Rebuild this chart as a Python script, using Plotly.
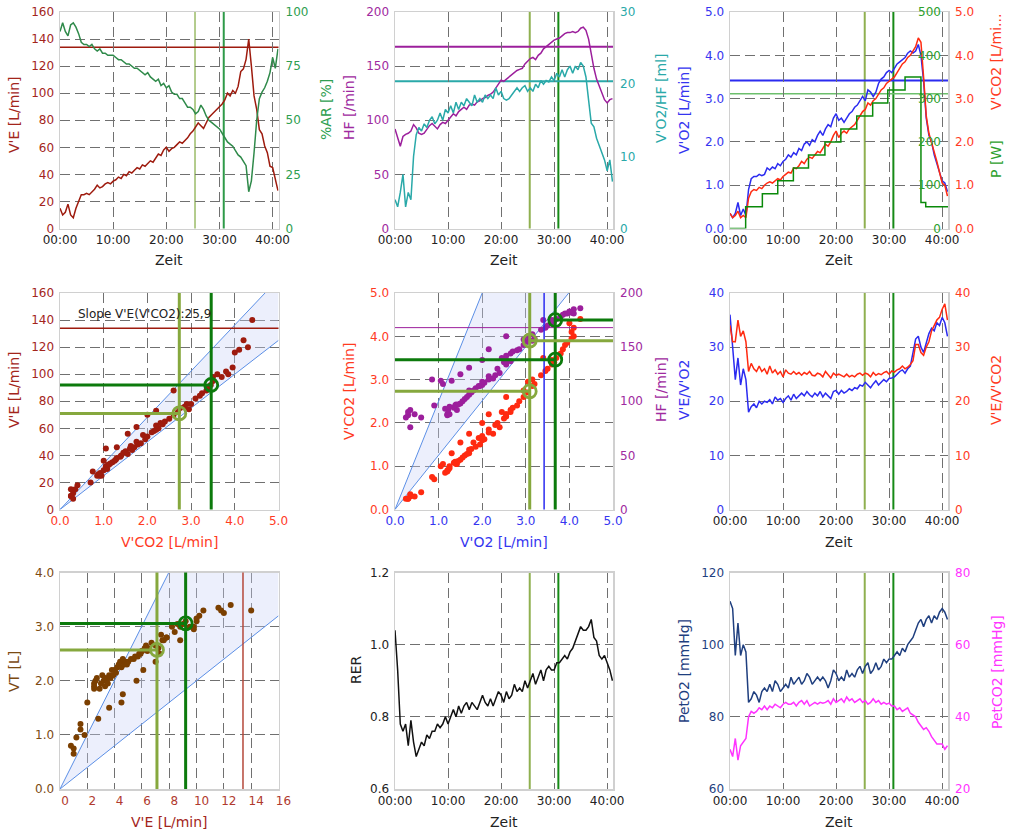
import plotly.graph_objects as go

# ------------------------------------------------------------------ data
time_min = [
    0, 0.5, 1, 1.5, 2, 2.5, 3, 3.5, 4, 4.5,
    5, 5.5, 6, 6.5, 7, 7.5, 8, 8.5, 9, 9.5,
    10, 10.5, 11, 11.5, 12, 12.5, 13, 13.5, 14, 14.5,
    15, 15.5, 16, 16.5, 17, 17.5, 18, 18.5, 19, 19.5,
    20, 20.5, 21, 21.5, 22, 22.5, 23, 23.5, 24, 24.5,
    25, 25.5, 26, 26.5, 27, 27.5, 28, 28.5, 29, 29.5,
    30, 30.5, 31, 31.5, 32, 32.5, 33, 33.5, 34, 34.5,
    35, 35.5, 36, 36.5, 37, 37.5, 38, 38.5, 39, 39.5,
    40, 40.5, 41]

ve = [
    15, 10, 12, 18, 10, 8, 15, 20, 25, 25,
    26, 25, 27, 29, 32, 30, 31, 33, 34, 33,
    35, 36, 38, 37, 40, 39, 42, 41, 43, 45,
    44, 47, 46, 48, 50, 49, 52, 55, 54, 58,
    60, 57, 59, 60, 62, 64, 63, 65, 67, 70,
    72, 75, 78, 76, 74, 78, 82, 84, 86, 88,
    90, 92, 95, 100, 98, 102, 100, 105, 116, 118,
    125, 140, 120, 98, 88, 73, 70, 61, 56, 46,
    45, 36, 28]

ar_pct = [
    91, 95, 91, 89, 94, 95, 93, 90, 86, 85,
    85, 84, 85, 83, 82, 83, 81, 81, 80, 80,
    80, 79, 78, 78, 77, 76, 76, 75, 74, 74,
    73, 72, 71, 72, 70, 69, 68, 69, 66, 67,
    65, 66, 63, 62, 62, 60, 60, 58, 56, 56,
    55, 53, 54, 57, 55, 52, 50, 49, 48, 47,
    46, 44, 42, 40, 39, 38, 36, 34, 33, 31,
    29, 17, 22, 35, 50, 60, 63, 65, 68, 72,
    79, 74, 83]

hf = [
    92, 85, 76, 85, 87, 88, 90, 96, 93, 88,
    87, 88, 92, 95, 97, 94, 92, 96, 98, 97,
    100, 102, 106, 104, 108, 110, 112, 110, 114, 115,
    114, 117, 118, 120, 121, 123, 124, 126, 130, 134,
    137, 136, 138, 140, 142, 144, 146, 147, 148, 152,
    155, 157, 158, 156, 160, 162, 166, 168, 170, 172,
    174, 175, 176, 178, 180, 181, 181, 182, 181, 182,
    185, 186, 183, 175, 160, 148, 138, 131, 125, 119,
    116, 119, 120]

vo2_hf = [
    4, 3, 5, 7.5, 3, 5, 4, 10, 13, 14,
    13.5, 14.5, 14, 15, 15.5, 14.5, 15, 16, 15, 16.5,
    16, 17, 16, 17.5, 16.5, 17.5, 17, 18, 17.5, 17,
    18.5, 17.5, 18, 17.5, 18.5, 18, 18.5, 18, 19.5, 18.5,
    19, 18, 17.8, 18, 18.5, 19, 19.5, 19, 19.5, 19.8,
    19, 19.5, 19, 20, 19.5, 20.5, 20, 20.5, 20.3, 21,
    20.5, 21.5, 21, 22, 21, 22, 22.5, 21.5, 22.5, 22,
    23, 22.5, 21, 17.8, 14.6, 14.1, 12.5, 11.5, 10.4, 9.5,
    8, 9.5, 6.5]

vo2 = [
    0.35, 0.25, 0.35, 0.6, 0.3, 0.45, 0.3, 0.9, 1.15, 1.2,
    1.2, 1.25, 1.22, 1.25, 1.4, 1.35, 1.42, 1.38, 1.5, 1.45,
    1.55, 1.6, 1.7, 1.65, 1.75, 1.7, 1.85, 1.8, 1.95, 2.0,
    1.92, 2.05, 2.0, 2.15, 2.25, 2.15, 2.3, 2.4, 2.35, 2.55,
    2.65, 2.5, 2.55, 2.45, 2.55, 2.65, 2.7, 2.8, 2.85, 2.95,
    3.05, 2.95, 3.2, 3.15, 3.05, 3.15, 3.35, 3.45, 3.5, 3.6,
    3.65, 3.6, 3.7, 3.8, 3.85, 3.9, 3.95, 4.05, 4.1, 4.05,
    4.1, 4.25, 4.0, 3.4, 2.55, 2.15, 2.0, 1.7, 1.5, 1.3,
    1.1, 1.05, 0.85]

vco2 = [
    0.35, 0.25, 0.3, 0.4, 0.25, 0.3, 0.25, 0.7, 0.85, 0.9,
    0.88, 0.95, 0.92, 1.0, 1.05, 1.08, 1.05, 1.1, 1.15, 1.12,
    1.2, 1.25, 1.3, 1.28, 1.4, 1.38, 1.45, 1.55, 1.5, 1.6,
    1.65, 1.62, 1.7, 1.78, 1.75, 1.85, 1.95, 1.9, 2.0, 2.15,
    2.25, 2.1, 2.2, 2.25, 2.2, 2.3, 2.35, 2.4, 2.5, 2.6,
    2.7, 2.75, 2.9, 2.85, 2.95, 3.0, 3.1, 3.2, 3.25, 3.35,
    3.4, 3.45, 3.5, 3.6, 3.7, 3.8, 3.85, 3.95, 4.0, 4.1,
    4.2, 4.4, 4.3, 3.5, 2.6, 2.2, 2.0, 1.75, 1.55, 1.3,
    1.05, 1.0, 0.75]

ve_vo2 = [
    36, 30, 24, 28, 23, 26, 24, 18, 19, 19.5,
    18.8, 20, 19.5, 20, 19.8, 20.3, 19.5, 20.8, 20.2, 20.5,
    19.8, 20.5, 21, 20.2, 21.3, 20.5, 21, 21.5, 21, 21.8,
    21.2, 20.8, 21.5, 21, 21.8, 20.8, 21.5, 21, 20.5, 21.8,
    22, 21.3, 22, 21.5, 21.8, 22.3, 22, 22.5, 22.3, 23,
    22.8, 23.5, 23, 22.5, 23.2, 23.8, 23, 23.5, 24, 23.6,
    24.2, 24.3, 24.5, 25, 25.5, 25.8, 25.2, 26, 26.5, 29,
    31.5, 32, 30, 29, 31, 32.5, 33.5, 33, 34.5, 34,
    35.5, 34.5, 32]

ve_vco2 = [
    34, 31, 31, 35, 32, 33, 31, 25.5, 27, 26,
    25.5, 26.5, 25.5, 26, 25, 26.5, 25.2, 25.8, 25, 25.5,
    24.5, 25.8, 25.2, 25, 25.5, 25, 25.3, 24.8, 25.3, 25,
    25.5, 24.8, 24.7, 25.2, 25, 24.5, 25.5, 24.8, 24.3, 25.2,
    24.8, 25, 24.7, 24.5, 25, 24.5, 24.8, 24.5, 25, 25.2,
    24.8, 25.2, 25, 24.5, 25.3, 24.8, 25.1, 24.9, 25.3, 25.5,
    25, 25.6, 25.4, 25.8, 26, 26.5, 26, 26.3, 26.8, 27.5,
    30.5, 30.5, 29, 28.5, 30, 31, 33, 34, 35, 35.5,
    37, 38, 35]

rer = [
    1.04, 0.93, 0.78, 0.76, 0.78, 0.72, 0.79, 0.73, 0.69, 0.71,
    0.73, 0.72, 0.75, 0.74, 0.76, 0.76, 0.78, 0.77, 0.78, 0.80,
    0.78, 0.80, 0.82, 0.80, 0.83, 0.81, 0.83, 0.84, 0.82, 0.84,
    0.83, 0.82, 0.84, 0.86, 0.84, 0.83, 0.85, 0.83, 0.85, 0.87,
    0.86, 0.84, 0.87, 0.85, 0.86, 0.89, 0.87, 0.88, 0.87, 0.90,
    0.88, 0.90, 0.92, 0.89, 0.91, 0.93, 0.90, 0.93, 0.94, 0.93,
    0.93, 0.95, 0.95, 0.96, 0.97, 0.96, 0.98, 0.99, 1.01, 1.03,
    1.05, 1.04, 1.04, 1.05, 1.07, 1.02, 1.01, 0.97, 0.96, 0.97,
    0.95, 0.93, 0.90]

peto2 = [
    112, 110, 97, 106, 97, 100, 98, 84, 85, 87,
    86, 84, 87, 88, 87, 89, 87, 90, 89, 87,
    88, 89, 88, 91, 89, 90, 91, 89, 90, 92,
    91, 89, 90, 91, 90, 91, 90, 88, 90, 93,
    92, 90, 91, 90, 93, 91, 92, 91, 93, 94,
    92, 94, 95, 92, 93, 95, 93, 94, 96, 95,
    96, 96, 97, 98, 97, 99, 98, 100, 101, 102,
    104, 106, 107, 105, 107, 108, 106, 108, 107, 109,
    110, 109, 107]

petco2 = [
    31, 29, 34, 28, 32, 33, 34, 40, 41.5, 41,
    41.5, 42.5, 42, 43, 42, 43, 42.5, 43.5, 43, 42.5,
    43.5, 44, 43.5, 43.5, 44, 43, 44, 44.5, 43.5, 44.5,
    43, 43.5, 44, 43.5, 44, 43.8, 44, 44.5, 43.5, 45,
    44, 44.5, 45, 44, 45.5, 44.5, 45, 44, 44.5, 45,
    44, 44.5, 43.5, 44, 45, 44, 44.5, 43.5, 44, 43.5,
    43.8, 43, 43, 42, 42.5, 41.5, 42, 42.5, 41, 40.5,
    40, 38.5, 37.5, 36.5, 37, 36, 34.5, 33.5, 32.5, 32.5,
    32.5, 31, 32]

vt = [
    1.2, 0.75, 0.95, 1.0, 0.65, 0.8, 1.1, 1.6, 1.95, 1.85,
    2.0, 1.9, 2.05, 1.85, 2.0, 1.95, 2.1, 1.9, 2.0, 2.05,
    1.95, 2.1, 2.2, 2.05, 2.2, 2.1, 2.25, 2.15, 2.3, 2.25,
    2.35, 2.3, 2.4, 2.35, 2.35, 2.3, 2.4, 2.45, 2.4, 2.5,
    2.55, 2.45, 2.5, 2.55, 2.6, 2.55, 2.65, 2.6, 2.7, 2.65,
    2.6, 2.75, 2.8, 2.75, 2.85, 2.8, 3.0, 2.9, 3.05, 3.0,
    3.05, 3.1, 3.0, 3.1, 3.0, 3.2, 3.15, 3.3, 3.35, 3.3,
    3.4, 3.3, 3.25, 2.95, 2.75, 2.5, 2.35, 2.2, 2.0, 1.75,
    1.6, 1.5, 1.3]

power_t = [0, 2.95, 6.1, 9.0, 11.95, 14.8, 17.9, 20.9, 23.9, 26.9, 29.75, 33.0, 36.0, 36.9, 41.1]
power_w = [0, 50, 80, 110, 140, 170, 200, 230, 260, 290, 320, 350, 60, 50, 50]

time_tickvals = [0, 10, 20, 30, 40]
time_ticktext = ["00:00", "10:00", "20:00", "30:00", "40:00"]
ve_tickvals = [0, 20, 40, 60, 80, 100, 120, 140, 160]
ve_ticktext = ["0", "2", "4", "6", "8", "10", "12", "14", "16"]

thr_t = [25.4, 30.8]
thr_ve = [71, 92]
thr_vco2 = [2.73, 3.46]
thr_vo2 = [3.09, 3.675]
thr_hf = [156, 175]
thr_vt = [2.57, 3.06]

ref_ve_max = 134
ref_hf = 168
ref_vo2_hf = 20.4
ref_vo2 = 3.42
ref_power = 311

slope_ve_vco2 = [25.0, 34.1]
slope_vco2_vo2 = [1.255, 2.5]
slope_vt_ve = [0.02, 0.0502]

for s in (ve, ar_pct, hf, vo2_hf, vo2, vco2, ve_vo2, ve_vco2, rer, peto2, petco2, vt):
    assert len(s) == len(time_min), len(s)

# ------------------------------------------------------------------ style
W, H = 1015, 830
FONT = "DejaVu Sans"
C_VE = "#9e1b0e"
C_VE_T = "#a3251b"
C_AR = "#2f8a4a"
C_AR_T = "#2e9e50"
C_HF = "#9c1f9c"
C_HF_T = "#a02aa0"
C_O2HF = "#2aa9a9"
C_VO2 = "#2b2bf0"
C_VO2_T = "#3535f0"
C_VCO2 = "#ff2a10"
C_VCO2_T = "#ff3b1f"
C_P = "#0a8a0a"
C_P_T = "#2ca02c"
C_VT = "#7b3f00"
C_VT_T = "#7b4a12"
C_PETO2 = "#1f3f7f"
C_PETCO2 = "#ff33ff"
C_VT1 = "#8fb050"
C_VT2 = "#168a16"
C_VT1S = "#86a83e"
C_VT2S = "#0c7a0c"
C_WEDGE = "#5b8fe6"
GRID = "#707070"
BORDER = "#d0d0d0"

COLS = [(60, 278.5), (395, 613), (730, 948)]
ROWS = [(12, 228.5), (293, 509.5), (572.5, 789)]


def sfx(k):
    return "" if k == 1 else str(k)


fig = go.Figure()
layout = dict(
    width=W, height=H, autosize=False,
    margin=dict(l=0, r=0, t=0, b=0, pad=0, autoexpand=False),
    paper_bgcolor="white", plot_bgcolor="white",
    showlegend=False,
    font=dict(family=FONT, size=12, color="#222"),
)
shapes = []
annotations = []

common = dict(showgrid=True, gridcolor=GRID, griddash="10px,5px", gridwidth=1,
              zeroline=False, showline=True, linecolor=BORDER, linewidth=1.5,
              mirror=True, ticks="", fixedrange=True, automargin=False)


def make_x(k, rng, color="#222", **kw):
    c = (k - 1) % 3
    d = dict(domain=[COLS[c][0] / W, COLS[c][1] / W], anchor="y" + sfx(k), range=rng,
             tickfont=dict(family=FONT, size=12, color=color))
    d.update(common)
    d.update(kw)
    layout["xaxis" + sfx(k)] = d


def make_y(k, rng, color="#222", **kw):
    r = (k - 1) // 3
    d = dict(domain=[1 - ROWS[r][1] / H, 1 - ROWS[r][0] / H], anchor="x" + sfx(k), range=rng,
             tickfont=dict(family=FONT, size=12, color=color), ticklabelstandoff=2)
    d.update(common)
    d.update(kw)
    layout["yaxis" + sfx(k)] = d


def make_yr(n, k, rng, color, **kw):
    d = dict(overlaying="y" + sfx(k), anchor="x" + sfx(k), side="right", range=rng,
             showgrid=False, zeroline=False, showline=False, ticks="", fixedrange=True,
             automargin=False,
             tickfont=dict(family=FONT, size=12, color=color), ticklabelstandoff=6)
    d.update(kw)
    layout["yaxis" + str(n)] = d


def time_x(k):
    make_x(k, [0, 41.1], tickvals=time_tickvals, ticktext=time_ticktext)


def line(x, y, xa, ya, color, width=1.5, shape="linear"):
    fig.add_trace(go.Scatter(x=x, y=y, xaxis=xa, yaxis=ya, mode="lines",
                             line=dict(color=color, width=width, shape=shape),
                             hoverinfo="skip", showlegend=False))


def dots(x, y, xa, ya, color, size=6):
    fig.add_trace(go.Scatter(x=x, y=y, xaxis=xa, yaxis=ya, mode="markers",
                             marker=dict(color=color, size=size, line=dict(width=0)),
                             hoverinfo="skip", showlegend=False))


def ring(x, y, xa, ya, color):
    fig.add_trace(go.Scatter(x=[x], y=[y], xaxis=xa, yaxis=ya, mode="markers",
                             marker=dict(symbol="circle-open", size=13, color=color,
                                         line=dict(width=2.8, color=color)),
                             hoverinfo="skip", showlegend=False))


def vline(xa, ya, x, color, width, layer="below"):
    shapes.append(dict(type="line", xref=xa, yref=ya + " domain", x0=x, x1=x, y0=0, y1=1,
                       line=dict(color=color, width=width), layer=layer))


def hline(xa, ya, y, color, width, x0=None, x1=None, layer="below"):
    if x0 is None:
        shapes.append(dict(type="line", xref=xa + " domain", yref=ya, x0=0, x1=1, y0=y, y1=y,
                           line=dict(color=color, width=width), layer=layer))
    else:
        shapes.append(dict(type="line", xref=xa, yref=ya, x0=x0, x1=x1, y0=y, y1=y,
                           line=dict(color=color, width=width), layer=layer))


def wedge(xa, ya, slopes, xmax, ymax):
    lo, hi = slopes

    def end(s):
        return (xmax, s * xmax) if s * xmax <= ymax else (ymax / s, ymax)

    eh, el = end(hi), end(lo)
    pts = [(0, 0), eh]
    if eh[1] >= ymax and el[0] >= xmax and el[1] < ymax:
        pts.append((xmax, ymax))
    pts += [el, (0, 0)]
    fig.add_trace(go.Scatter(x=[p[0] for p in pts], y=[p[1] for p in pts], xaxis=xa, yaxis=ya,
                             mode="lines", fill="toself", fillcolor="rgba(200,210,245,0.35)",
                             line=dict(width=0), hoverinfo="skip", showlegend=False))
    for e in (eh, el):
        line([0, e[0]], [0, e[1]], xa, ya, C_WEDGE, 1)


def title(text, cx, cy, color, rot=False, size=14):
    annotations.append(dict(text=text, xref="paper", yref="paper", x=cx / W, y=1 - cy / H,
                            xanchor="center", yanchor="middle", showarrow=False,
                            textangle=-90 if rot else 0,
                            font=dict(family=FONT, size=size, color=color)))


# ------------------------------------------------------------------ panel 1: V'E / %AR
time_x(1)
make_y(1, [0, 160], C_VE_T, dtick=20)
make_yr(10, 1, [0, 100], C_AR_T, dtick=25)
vline("x", "y", thr_t[0], "#b3cc8c", 2)
vline("x", "y", thr_t[1], "#2e9a48", 2)
hline("x", "y", ref_ve_max, C_VE, 1.5)
line(time_min, ar_pct, "x", "y10", C_AR)
line(time_min, ve, "x", "y", C_VE)
title("V'E [L/min]", 14, 115, C_VE_T, True)
title("%AR [%]", 326, 110, C_AR_T, True)
title("Zeit", 169, 260, "#222")

# ------------------------------------------------------------------ panel 2: HF / VO2/HF
time_x(2)
make_y(2, [0, 200], C_HF_T, dtick=50)
make_yr(11, 2, [0, 30], C_O2HF, dtick=10)
vline("x2", "y2", thr_t[0], C_VT1, 2)
vline("x2", "y2", thr_t[1], C_VT2, 2)
hline("x2", "y2", ref_hf, C_HF, 2)
hline("x2", "y11", ref_vo2_hf, C_O2HF, 2)
line(time_min, vo2_hf, "x2", "y11", C_O2HF)
line(time_min, hf, "x2", "y2", C_HF)
title("HF [/min]", 349, 108, C_HF_T, True)
title("V'O2/HF [ml]", 661, 98, C_O2HF, True)
title("Zeit", 504, 260, "#222")

# ------------------------------------------------------------------ panel 3: VO2 / VCO2 / P
time_x(3)
make_y(3, [0, 5], C_VO2_T, dtick=1, tickformat=".1f")
make_yr(12, 3, [0, 5], C_VCO2_T, dtick=1, tickformat=".1f")
make_yr(13, 3, [0, 500], C_P_T, dtick=100, ticklabelposition="inside", ticklabelstandoff=4,
        ticklabeloverflow="allow")
vline("x3", "y3", thr_t[0], C_VT1, 2)
vline("x3", "y3", thr_t[1], C_VT2, 2)
hline("x3", "y3", ref_vo2, C_VO2, 2)
hline("x3", "y13", ref_power, "#6cbf6c", 1.5)
line(power_t, power_w, "x3", "y13", C_P, 1.5, "hv")
line(time_min, vo2, "x3", "y3", C_VO2)
line(time_min, vco2, "x3", "y12", C_VCO2)
title("V'O2 [L/min]", 684, 110, C_VO2_T, True)
title("V'CO2 [L/mi...", 996, 62, C_VCO2_T, True)
title("P [W]", 996, 159, C_P_T, True)
title("Zeit", 839, 260, "#222")

# ------------------------------------------------------------------ panel 4: VE vs VCO2
make_x(4, [0, 5], C_VCO2_T, dtick=1, tickformat=".1f")
make_y(4, [0, 160], C_VE_T, dtick=20)
wedge("x4", "y4", slope_ve_vco2, 5, 160)
dots(vco2, ve, "x4", "y4", C_VE)
hline("x4", "y4", ref_ve_max, C_VE, 1.5, layer="above")
vline("x4", "y4", thr_vco2[0], C_VT1S, 3, layer="above")
vline("x4", "y4", thr_vco2[1], C_VT2S, 3, layer="above")
hline("x4", "y4", thr_ve[0], C_VT1S, 3, 0, thr_vco2[0], layer="above")
hline("x4", "y4", thr_ve[1], C_VT2S, 3, 0, thr_vco2[1], layer="above")
ring(thr_vco2[0], thr_ve[0], "x4", "y4", C_VT1S)
ring(thr_vco2[1], thr_ve[1], "x4", "y4", C_VT2S)
annotations.append(dict(text="Slope V'E(V'CO2):25,9", xref="paper", yref="paper",
                        x=76 / W, y=1 - 314 / H, xanchor="left", yanchor="middle",
                        showarrow=False, font=dict(family=FONT, size=12, color="#222")))
title("V'E [L/min]", 14, 390, C_VE_T, True)
title("V'CO2 [L/min]", 169, 542, C_VCO2_T)

# ------------------------------------------------------------------ panel 5: VCO2 / HF vs VO2
make_x(5, [0, 5], C_VO2_T, dtick=1, tickformat=".1f")
make_y(5, [0, 5], C_VCO2_T, dtick=1, tickformat=".1f")
make_yr(14, 5, [0, 200], C_HF_T, dtick=50)
wedge("x5", "y5", slope_vco2_vo2, 5, 5)
dots(vo2, vco2, "x5", "y5", C_VCO2)
dots(vo2, hf, "x5", "y14", C_HF)
hline("x5", "y14", ref_hf, C_HF, 1, layer="above")
vline("x5", "y5", ref_vo2, C_VO2, 1.5, layer="above")
vline("x5", "y5", thr_vo2[0], C_VT1S, 3, layer="above")
vline("x5", "y5", thr_vo2[1], C_VT2S, 3, layer="above")
hline("x5", "y5", thr_vco2[0], C_VT1S, 3, 0, thr_vo2[0], layer="above")
hline("x5", "y5", thr_vco2[1], C_VT2S, 3, 0, thr_vo2[1], layer="above")
hline("x5", "y14", thr_hf[0], C_VT1S, 3, thr_vo2[0], 5, layer="above")
hline("x5", "y14", thr_hf[1], C_VT2S, 3, thr_vo2[1], 5, layer="above")
ring(thr_vo2[0], thr_vco2[0], "x5", "y5", C_VT1S)
ring(thr_vo2[1], thr_vco2[1], "x5", "y5", C_VT2S)
ring(thr_vo2[0], thr_hf[0], "x5", "y14", C_VT1S)
ring(thr_vo2[1], thr_hf[1], "x5", "y14", C_VT2S)
title("V'CO2 [L/min]", 349, 392, C_VCO2_T, True)
title("HF [/min]", 661, 390, C_HF_T, True)
title("V'O2 [L/min]", 504, 542, C_VO2_T)

# ------------------------------------------------------------------ panel 6: VE/VO2, VE/VCO2
time_x(6)
make_y(6, [0, 40], C_VO2_T, dtick=10)
make_yr(15, 6, [0, 40], C_VCO2_T, dtick=10)
vline("x6", "y6", thr_t[0], C_VT1, 2)
vline("x6", "y6", thr_t[1], C_VT2, 2)
line(time_min, ve_vco2, "x6", "y15", C_VCO2)
line(time_min, ve_vo2, "x6", "y6", C_VO2)
title("V'E/V'O2", 684, 390, C_VO2_T, True)
title("V'E/V'CO2", 996, 390, C_VCO2_T, True)
title("Zeit", 839, 542, "#222")

# ------------------------------------------------------------------ panel 7: VT vs VE
make_x(7, [0, 160], "#b03a2e", tickvals=ve_tickvals, ticktext=ve_ticktext, ticklabelshift=5)
make_y(7, [0, 4], C_VT_T, dtick=1, tickformat=".1f")
wedge("x7", "y7", slope_vt_ve, 160, 4)
dots(ve, vt, "x7", "y7", C_VT)
vline("x7", "y7", ref_ve_max, "#b5483a", 1.5, layer="above")
vline("x7", "y7", thr_ve[0], C_VT1S, 3, layer="above")
vline("x7", "y7", thr_ve[1], C_VT2S, 3, layer="above")
hline("x7", "y7", thr_vt[0], C_VT1S, 3, 0, thr_ve[0], layer="above")
hline("x7", "y7", thr_vt[1], C_VT2S, 3, 0, thr_ve[1], layer="above")
ring(thr_ve[0], thr_vt[0], "x7", "y7", C_VT1S)
ring(thr_ve[1], thr_vt[1], "x7", "y7", C_VT2S)
title("VT [L]", 14, 672, C_VT_T, True)
title("V'E [L/min]", 169, 822, "#a3251b")

# ------------------------------------------------------------------ panel 8: RER
time_x(8)
make_y(8, [0.6, 1.2], "#222", dtick=0.2, tickformat=".1f")
vline("x8", "y8", thr_t[0], C_VT1, 2)
vline("x8", "y8", thr_t[1], C_VT2, 2)
line(time_min, rer, "x8", "y8", "#111111")
title("RER", 356, 670, "#222", True)
title("Zeit", 504, 822, "#222")

# ------------------------------------------------------------------ panel 9: PetO2 / PetCO2
time_x(9)
make_y(9, [60, 120], C_PETO2, dtick=20)
make_yr(16, 9, [20, 80], C_PETCO2, dtick=20)
vline("x9", "y9", thr_t[0], C_VT1, 2)
vline("x9", "y9", thr_t[1], C_VT2, 2)
line(time_min, petco2, "x9", "y16", C_PETCO2)
line(time_min, peto2, "x9", "y9", C_PETO2)
title("PetO2 [mmHg]", 684, 671, C_PETO2, True)
title("PetCO2 [mmHg]", 997, 672, C_PETCO2, True)
title("Zeit", 839, 822, "#222")

layout["shapes"] = shapes
layout["annotations"] = annotations
fig.update_layout(**layout)

fig.write_html("out.html", config={"displayModeBar": False, "staticPlot": True},
               post_script="document.body.style.margin='0';document.body.style.overflow='hidden';")
